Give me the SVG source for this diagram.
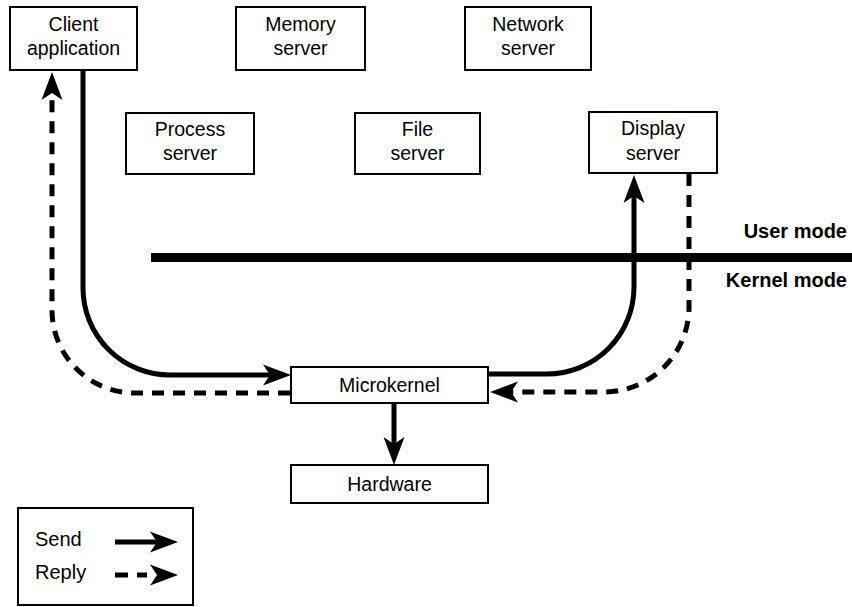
<svg xmlns="http://www.w3.org/2000/svg" width="852" height="607" viewBox="0 0 852 607">
<style>
.box{fill:#fff;stroke:#000;stroke-width:2}
.t{font-family:"Liberation Sans",Arial,sans-serif;font-size:19.5px;fill:#000;text-anchor:middle}
.lt{font-family:"Liberation Sans",Arial,sans-serif;font-size:20px;fill:#000}
.m{font-family:"Liberation Sans",Arial,sans-serif;font-size:20px;font-weight:bold;fill:#000;text-anchor:end}
.send{fill:none;stroke:#000;stroke-width:5;marker-end:url(#ah)}
.reply{fill:none;stroke:#000;stroke-width:5;stroke-dasharray:12 9;marker-end:url(#ah)}
</style>
<defs>
<marker id="ah" markerUnits="userSpaceOnUse" markerWidth="30" markerHeight="22" refX="7" refY="10.5" orient="auto" overflow="visible">
<path d="M0,0 L28,10.5 L0,21 L7,10.5 Z" fill="#000"/>
</marker>
</defs>
<rect width="852" height="607" fill="#fff"/>

<g id="client"><rect class="box" x="10" y="7" width="127" height="63"/><text class="t" x="73.5" y="31">Client</text><text class="t" x="73.5" y="55">application</text></g>
<g id="memory"><rect class="box" x="236" y="7" width="129" height="63"/><text class="t" x="300.5" y="31">Memory</text><text class="t" x="300.5" y="55">server</text></g>
<g id="network"><rect class="box" x="465" y="7" width="126" height="63"/><text class="t" x="528" y="31">Network</text><text class="t" x="528" y="55">server</text></g>
<g id="process"><rect class="box" x="126" y="113" width="128" height="61"/><text class="t" x="190" y="136">Process</text><text class="t" x="190" y="160">server</text></g>
<g id="file"><rect class="box" x="355" y="113" width="125" height="61"/><text class="t" x="417.5" y="136">File</text><text class="t" x="417.5" y="160">server</text></g>
<g id="display"><rect class="box" x="589" y="112" width="128" height="61"/><text class="t" x="653" y="135">Display</text><text class="t" x="653" y="160">server</text></g>
<g id="microkernel"><rect class="box" x="291" y="367" width="197" height="36"/><text class="t" x="389.5" y="392">Microkernel</text></g>
<g id="hardware"><rect class="box" x="291" y="465" width="197" height="38"/><text class="t" x="389.5" y="491">Hardware</text></g>

<g id="boundary">
<line x1="151" y1="257.5" x2="852" y2="257.5" stroke="#000" stroke-width="9"/>
<text class="m" x="847" y="238">User mode</text>
<text class="m" x="847" y="287">Kernel mode</text>
</g>

<g id="connectors">
<path class="send" d="M83,70 V288 A87,87 0 0 0 170,375 H270"/>
<path class="reply" d="M290,393 H135 A83,83 0 0 1 52,310 V93"/>
<path class="send" d="M488,374 H547 A87,87 0 0 0 634,287 V196"/>
<path class="reply" d="M689,174 V307 A85,85 0 0 1 604,392 H511"/>
<path class="send" d="M394,403 V444"/>
</g>

<g id="legend">
<rect class="box" x="18" y="508" width="175" height="97"/>
<text class="lt" x="35" y="546">Send</text>
<text class="lt" x="35" y="579">Reply</text>
<path class="send" d="M115,542 H157"/>
<path d="M115,575 H128 M137,575 H147" fill="none" stroke="#000" stroke-width="5"/>
<path d="M150,564.5 L178,575 L150,585.5 L157,575 Z" fill="#000"/>
</g>
</svg>
